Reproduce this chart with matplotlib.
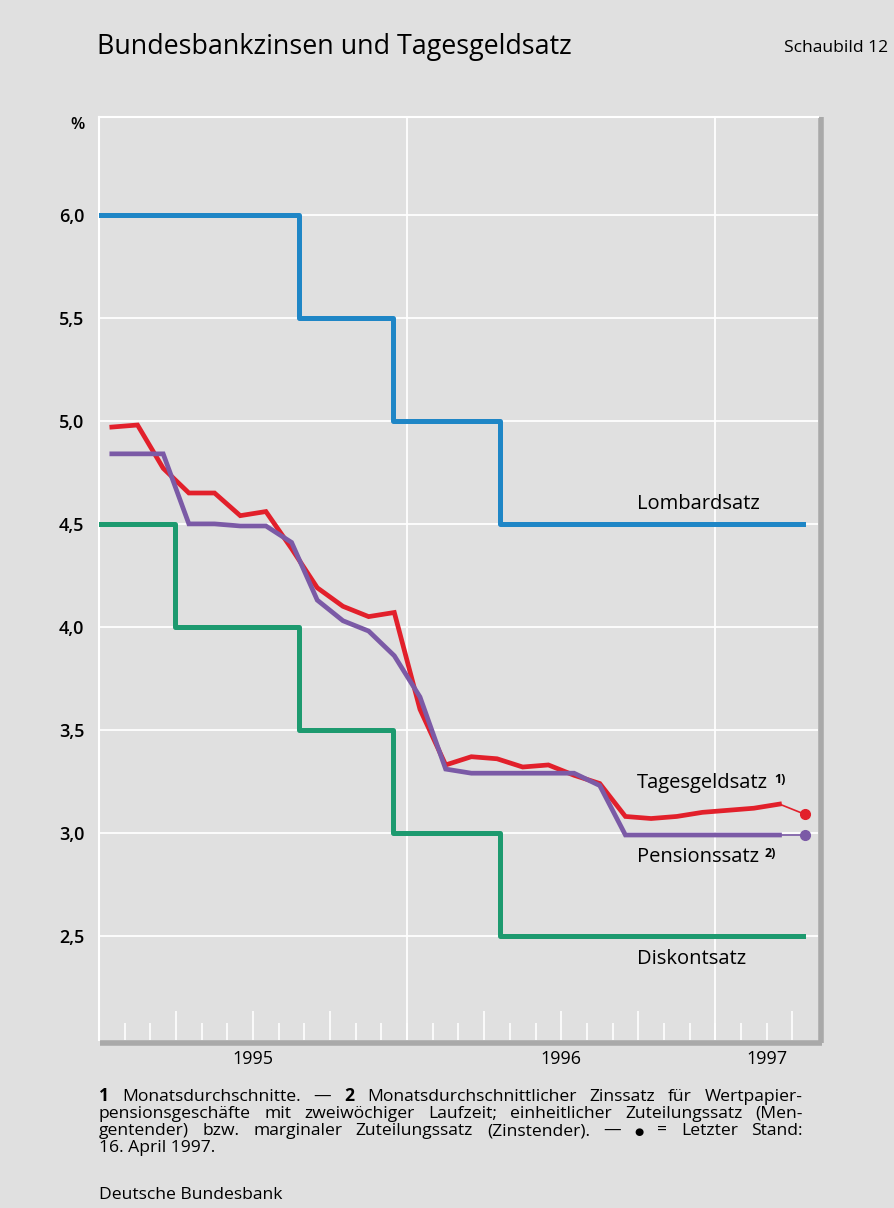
import numpy as np
import matplotlib
matplotlib.use('Agg')
import matplotlib.pyplot as plt

plt.rcParams['font.family'] = ['Open Sans', 'DejaVu Sans']

# x in months since 1 Jan 1995
lomb_x = [0, 7.77, 11.45, 15.6, 27.4]
lomb_y = [6.0, 5.5, 5.0, 4.5, 4.5]
disk_x = [0, 2.97, 7.77, 11.45, 15.6, 27.4]
disk_y = [4.5, 4.0, 3.5, 3.0, 2.5, 2.5]

tages = [4.97, 4.98, 4.77, 4.65, 4.65, 4.54, 4.56, 4.38, 4.19, 4.10, 4.05, 4.07,
         3.60, 3.33, 3.37, 3.36, 3.32, 3.33, 3.28, 3.24, 3.08, 3.07, 3.08, 3.10,
         3.11, 3.12, 3.14]
pension = [4.84, 4.84, 4.84, 4.50, 4.50, 4.49, 4.49, 4.41, 4.13, 4.03, 3.98, 3.86,
           3.66, 3.31, 3.29, 3.29, 3.29, 3.29, 3.29, 3.23, 2.99, 2.99, 2.99, 2.99,
           2.99, 2.99, 2.99]
last_x = 27.5
tages_last = 3.09
pension_last = 2.99

yticks = [2.5, 3.0, 3.5, 4.0, 4.5, 5.0, 5.5, 6.0]
ytick_labels = ['2,5', '3,0', '3,5', '4,0', '4,5', '5,0', '5,5', '6,0']
years = ['1995', '1996', '1997']
year_pos = [6, 18, 26]

bg = '#e0e0e0'
c_lomb = '#1f86c6'
c_disk = '#1d9a6f'
c_tages = '#e2202b'
c_pens = '#7b5aa6'

W, H = 895, 1208
fig = plt.figure(figsize=(W / 100, H / 100), dpi=100, facecolor=bg)
ax = fig.add_axes([99 / W, 1 - 1040 / H, (818 - 99) / W, (1040 - 117) / H])
ax.set_facecolor(bg)
ax.set_xlim(0, 28)
ax.set_ylim(1.995, 6.475)

for s in ['top', 'left']:
    ax.spines[s].set_color('white')
    ax.spines[s].set_linewidth(1.5)
for s in ['right', 'bottom']:
    ax.spines[s].set_visible(False)

# shadow on right and bottom
ax.plot([1.0035, 1.0035], [1.0, -0.003], transform=ax.transAxes, color='#a9a9a9',
        lw=4, clip_on=False, solid_capstyle='butt')
ax.plot([0.002, 1.006], [-0.003, -0.003], transform=ax.transAxes, color='#a9a9a9',
        lw=4, clip_on=False, solid_capstyle='butt')

for y in yticks:
    ax.axhline(y, color='white', lw=1.3, zorder=1)
for x in [12, 24]:
    ax.axvline(x, color='white', lw=1.3, zorder=1)

ax.set_yticks(yticks)
ax.set_yticklabels(ytick_labels, fontsize=13, fontweight='semibold')
ax.tick_params(axis='y', length=0, pad=10.5)
ax.set_xticks([3, 6, 9, 15, 18, 21, 27])
ax.set_xticklabels([])
ax.set_xticks(np.arange(1, 28), minor=True)
ax.tick_params(axis='x', which='major', direction='in', length=21, width=1.2, color='white')
ax.tick_params(axis='x', which='minor', direction='in', length=12, width=1.2, color='white')

for lbl, xp in zip(years, year_pos):
    ax.text(xp, -0.011, lbl, transform=ax.get_xaxis_transform(), ha='center', va='top',
            fontsize=13)

ax.step(lomb_x, lomb_y, where='post', color=c_lomb, lw=3.6, zorder=3)
ax.step(disk_x, disk_y, where='post', color=c_disk, lw=3.6, zorder=3)

mx = np.arange(len(tages)) + 0.5
ax.plot(mx, tages, color=c_tages, lw=3.4, zorder=4, solid_joinstyle='miter')
ax.plot(mx, pension, color=c_pens, lw=3.4, zorder=5, solid_joinstyle='miter')
ax.plot([mx[-1], last_x], [tages[-1], tages_last], color=c_tages, lw=1.2, zorder=4)
ax.plot([mx[-1], last_x], [pension[-1], pension_last], color=c_pens, lw=1.2, zorder=5)
ax.plot(last_x, tages_last, 'o', color=c_tages, ms=7, zorder=6)
ax.plot(last_x, pension_last, 'o', color=c_pens, ms=7, zorder=6)


def fx(px):
    return px / W


def fy(py):
    return 1 - py / H


lab_kw = dict(fontsize=14.5, va='baseline', ha='left')
fig.text(fx(637), fy(509), 'Lombardsatz', **lab_kw)
t1 = fig.text(fx(637), fy(788), 'Tagesgeldsatz', **lab_kw)
t2 = fig.text(fx(637), fy(862), 'Pensionssatz', **lab_kw)
fig.text(fx(637), fy(964), 'Diskontsatz', **lab_kw)

fig.canvas.draw()
r = fig.canvas.get_renderer()
for t, sup in [(t1, '1)'), (t2, '2)')]:
    bb = t.get_window_extent(r)
    fig.text((bb.x1 + 6) / W, (bb.y0 + 10) / H, sup,
             fontsize=9, fontweight='bold', va='baseline', ha='left')

fig.text(fx(97), fy(54), 'Bundesbankzinsen und Tagesgeldsatz', fontsize=19.4, va='baseline')
fig.text(fx(888), fy(52), 'Schaubild 12', fontsize=12.6, va='baseline', ha='right')
fig.text(fx(85), fy(129), '%', fontsize=12, fontweight='semibold', va='baseline', ha='right')

# footnote, justified lines
foot_lines = [
    [('1', True), ('Monatsdurchschnitte.', False), ('—', False), ('2', True),
     ('Monatsdurchschnittlicher', False), ('Zinssatz', False), ('für', False), ('Wertpapier-', False)],
    [(w, False) for w in 'pensionsgeschäfte mit zweiwöchiger Laufzeit; einheitlicher Zuteilungssatz (Men-'.split()],
    [(w, False) for w in 'gentender) bzw. marginaler Zuteilungssatz (Zinstender). — ● = Letzter Stand:'.split()],
]
foot_fs = 12.6
x_left, x_right = 99, 803
line_y = [1101, 1118, 1135]
for words, yb in zip(foot_lines, line_y):
    arts = []
    for w, b in words:
        fs = foot_fs * 0.6 if w == '●' else foot_fs
        arts.append(fig.text(0, fy(yb), w, fontsize=fs, va='baseline', ha='left',
                             fontweight='bold' if b else 'normal'))
    fig.canvas.draw()
    widths = [a.get_window_extent(r).width for a in arts]
    gap = (x_right - x_left - sum(widths)) / (len(arts) - 1)
    xp = x_left
    for a, wd in zip(arts, widths):
        a.set_x(fx(xp))
        xp += wd + gap
fig.text(fx(99), fy(1152), '16. April 1997.', fontsize=foot_fs, va='baseline')
fig.text(fx(99), fy(1199), 'Deutsche Bundesbank', fontsize=foot_fs, va='baseline')

fig.savefig('out.png', dpi=100, facecolor=bg)
